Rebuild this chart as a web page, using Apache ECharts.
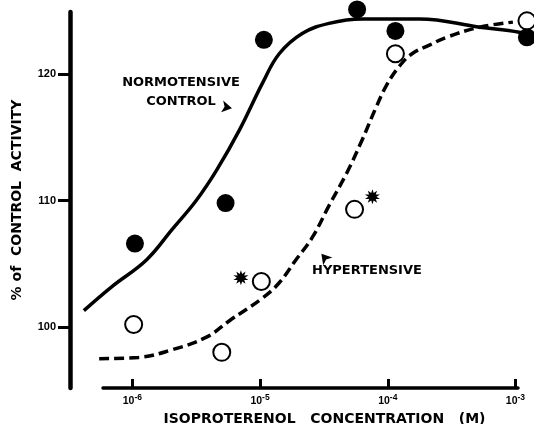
<!DOCTYPE html>
<html>
<head>
<meta charset="utf-8">
<script src="https://cdn.jsdelivr.net/npm/echarts@6/dist/echarts.min.js"></script>
<style>
html,body{margin:0;padding:0;background:#fff;}
#chart{width:534px;height:424px;}
</style>
</head>
<body>
<div id="chart"></div>
<script>
// x values are log10 of molar concentration
const xTicks = [-6, -5, -4, -3];
const yTicks = [100, 110, 120];

const normotensivePoints = [[-5.98, 106.6], [-5.27, 109.8], [-4.97, 122.7], [-4.24, 125.1], [-3.94, 123.4], [-2.91, 122.9]];
const hypertensivePoints = [[-5.99, 100.2], [-5.30, 98.0], [-4.99, 103.6], [-4.26, 109.3], [-3.94, 121.6], [-2.91, 124.2]];
const starPoints = [[-5.15, 103.9], [-4.12, 110.3]];

const normotensiveCurve = [[-6.38, 101.3], [-6.16, 103.2], [-5.89, 105.3], [-5.69, 107.7], [-5.50, 110.0], [-5.34, 112.4], [-5.16, 115.6], [-4.98, 119.3], [-4.85, 121.6], [-4.67, 123.2], [-4.46, 124.0], [-4.20, 124.35], [-3.75, 124.35], [-3.28, 123.7], [-2.97, 123.3], [-2.88, 123.0]];
const hypertensiveCurve = [[-6.26, 97.5], [-5.95, 97.6], [-5.69, 98.2], [-5.42, 99.2], [-5.24, 100.5], [-4.98, 102.3], [-4.85, 103.5], [-4.72, 105.3], [-4.59, 107.1], [-4.46, 109.6], [-4.32, 112.2], [-4.20, 114.8], [-4.09, 117.4], [-4.01, 119.1], [-3.91, 120.6], [-3.81, 121.6], [-3.67, 122.3], [-3.54, 122.9], [-3.28, 123.7], [-3.02, 124.1]];

// annotation arrows: [x, y, rotation]
const arrowMarks = [[-5.22, 117.3, -100], [-4.52, 105.8, 40]];

function starPath(n, rOut, rIn) {
  let d = '';
  for (let i = 0; i < n * 2; i++) {
    const r = i % 2 === 0 ? rOut : rIn;
    const a = Math.PI * i / n - Math.PI / 2;
    d += (i === 0 ? 'M' : 'L') + (50 + r * Math.cos(a)).toFixed(2) + ' ' + (50 + r * Math.sin(a)).toFixed(2) + ' ';
  }
  return 'path://' + d + 'Z';
}

const chart = echarts.init(document.getElementById('chart'), null, {renderer: 'canvas'});
const boldFont = 'DejaVu Sans';
const xMax = -2.98, yMin = 95.18, yMax = 124.9;
chart.setOption({
  backgroundColor: '#fff',
  animation: false,
  grid: [
    {left: 81.3, right: 16, top: 12, bottom: 36, containLabel: false, outerBoundsMode: 'none'},
    {left: 103, right: 16, top: 12, bottom: 36, containLabel: false, outerBoundsMode: 'none'}
  ],
  xAxis: [
    {gridIndex: 0, type: 'value', min: -6.40, max: xMax, show: false},
    {
      gridIndex: 1, type: 'value', min: -6.23, max: xMax,
      name: 'ISOPROTERENOL   CONCENTRATION   (M)',
      nameLocation: 'middle', nameGap: 20,
      nameTextStyle: {fontFamily: boldFont, fontWeight: 'bold', fontSize: 14, color: '#000', padding: [0, 0, 0, 28]},
      axisLine: {lineStyle: {color: '#000', width: 3.5}},
      axisTick: {inside: true, length: 9, lineStyle: {color: '#000', width: 3}, customValues: xTicks},
      axisLabel: {
        customValues: xTicks, margin: 5,
        formatter: v => '{b|10}{s|' + v + '}',
        rich: {
          b: {fontFamily: 'Liberation Sans', fontWeight: 'bold', fontSize: 10.5, color: '#000', verticalAlign: 'bottom', lineHeight: 14},
          s: {fontFamily: 'Liberation Sans', fontWeight: 'bold', fontSize: 8.5, color: '#000', verticalAlign: 'top', lineHeight: 14}
        }
      },
      splitLine: {show: false}
    }
  ],
  yAxis: [
    {
      gridIndex: 0, type: 'value', min: yMin, max: yMax, offset: 11.3,
      name: '% of  CONTROL  ACTIVITY',
      nameLocation: 'middle', nameRotate: 90, nameGap: 46,
      nameTextStyle: {fontFamily: boldFont, fontWeight: 'bold', fontSize: 14, color: '#000'},
      axisLine: {show: true, lineStyle: {color: '#000', width: 4.5}},
      axisTick: {show: true, length: 12, lineStyle: {color: '#000', width: 3}, customValues: yTicks},
      axisLabel: {customValues: yTicks, margin: 14, fontFamily: 'Liberation Sans', fontWeight: 'bold', fontSize: 11, color: '#000'},
      splitLine: {show: false}
    },
    {gridIndex: 1, type: 'value', min: yMin, max: yMax, show: false, splitLine: {show: false}}
  ],
  series: [
    {type: 'line', data: normotensiveCurve, smooth: 0.4, symbol: 'none', clip: false,
     lineStyle: {color: '#000', width: 3.5}},
    {type: 'line', data: hypertensiveCurve, smooth: 0.4, symbol: 'none', clip: false,
     lineStyle: {color: '#000', width: 3.5, type: [10, 5]}},
    {type: 'scatter', data: normotensivePoints, symbol: 'circle', symbolSize: 18, clip: false,
     itemStyle: {color: '#000', opacity: 1}},
    {type: 'scatter', data: hypertensivePoints, symbol: 'circle', symbolSize: 17, clip: false,
     itemStyle: {color: '#fff', borderColor: '#000', borderWidth: 2, opacity: 1}},
    {type: 'scatter', data: starPoints, symbol: starPath(10, 50, 26), symbolSize: 15, clip: false,
     itemStyle: {color: '#000', opacity: 1}},
    {type: 'scatter', data: arrowMarks.map(a => ({value: [a[0], a[1]], symbolRotate: a[2]})),
     symbol: 'arrow', symbolSize: [9, 10], clip: false, itemStyle: {color: '#000', opacity: 1}}
  ],
  graphic: [
    {type: 'text', x: 181, y: 92, style: {text: 'NORMOTENSIVE\nCONTROL', align: 'center', verticalAlign: 'middle',
      font: 'bold 13px "DejaVu Sans"', lineHeight: 19, fill: '#000'}},
    {type: 'text', x: 312, y: 271, style: {text: 'HYPERTENSIVE', align: 'left', verticalAlign: 'middle',
      font: 'bold 13px "DejaVu Sans"', fill: '#000'}}
  ]
});
</script>
</body>
</html>
